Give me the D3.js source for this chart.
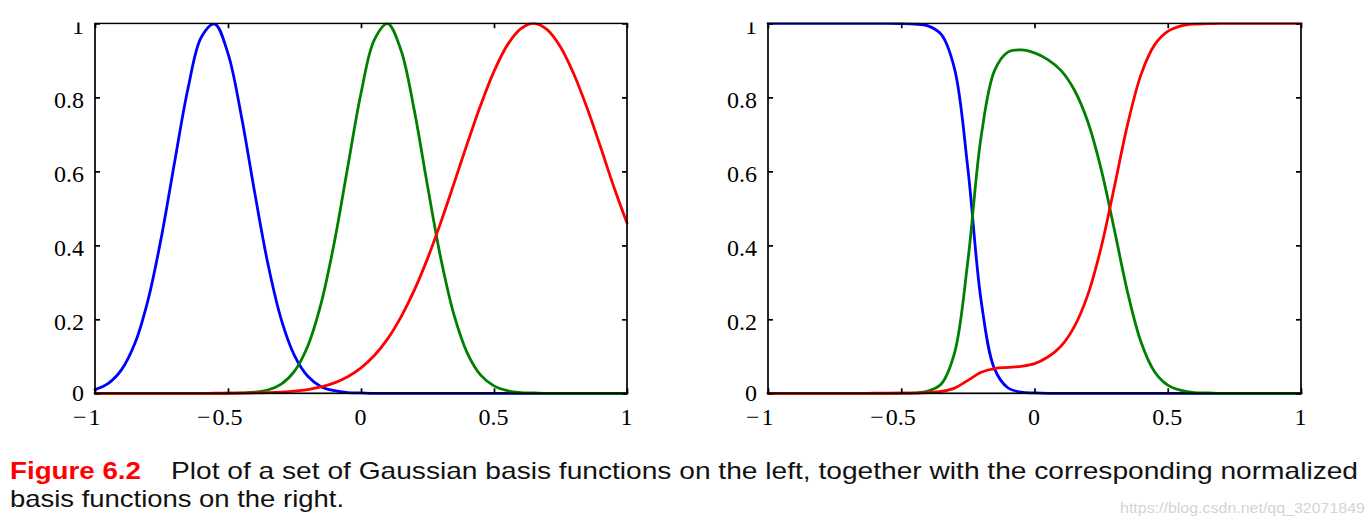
<!DOCTYPE html>
<html><head><meta charset="utf-8">
<script src="https://cdn.jsdelivr.net/npm/d3@7"></script>
<style>html,body{margin:0;padding:0;background:#fff;} svg{display:block;}</style>
</head><body><svg id="chart" width="1372" height="523"></svg>
<script>
// x sample positions shared by every series
const xs = [-1,-0.95,-0.9,-0.85,-0.8,-0.75,-0.7,-0.65,-0.6,-0.55,-0.5,-0.45,-0.4,-0.35,-0.3,-0.25,-0.2,-0.15,-0.1,-0.05,0,0.05,0.1,0.15,0.2,0.25,0.3,0.35,0.4,0.45,0.5,0.55,0.6,0.65,0.7,0.75,0.8,0.85,0.9,0.95,1];

// left panel: Gaussian basis functions
const leftBlue  = [0.010,0.027,0.064,0.135,0.254,0.424,0.628,0.825,0.963,0.998,0.918,0.750,0.544,0.350,0.200,0.102,0.046,0.018,0.007,0.002,0.001,0,0,0,0,0,0,0,0,0,0,0,0,0,0,0,0,0,0,0,0];
const leftGreen = [0,0,0,0,0,0,0,0,0,0,0.0002,0.001,0.003,0.009,0.025,0.060,0.128,0.243,0.409,0.611,0.811,0.955,0.999,0.928,0.766,0.561,0.365,0.211,0.108,0.049,0.020,0.007,0.002,0.001,0,0,0,0,0,0,0];
const leftRed   = [0,0,0,0,0,0,0,0,0,0.0001,0.0002,0.0005,0.0009,0.0017,0.0032,0.0058,0.0102,0.0172,0.0282,0.0447,0.0687,0.102,0.147,0.206,0.278,0.364,0.462,0.568,0.676,0.779,0.870,0.941,0.985,1.000,0.983,0.936,0.863,0.771,0.667,0.559,0.460];

// right panel: normalized basis functions
const rightBlue  = [1,1,1,1,1,1,1,1,1,1,0.9995,0.998,0.993,0.970,0.877,0.607,0.249,0.066,0.015,0.003,0.001,0,0,0,0,0,0,0,0,0,0,0,0,0,0,0,0,0,0,0,0];
const rightGreen = [0,0,0,0,0,0,0,0,0,0,0.0003,0.001,0.006,0.025,0.109,0.358,0.695,0.872,0.922,0.928,0.920,0.902,0.872,0.819,0.734,0.606,0.441,0.271,0.138,0.059,0.022,0.008,0.002,0.001,0,0,0,0,0,0,0];
const rightRed   = [0,0,0,0,0,0,0,0,0.0001,0.0001,0.0002,0.0006,0.0017,0.005,0.014,0.035,0.057,0.067,0.070,0.073,0.080,0.098,0.128,0.181,0.266,0.394,0.559,0.729,0.862,0.941,0.978,0.993,0.998,0.999,1,1,1,1,1,1,1];

const xTicks = [-1,-0.5,0,0.5,1];
const yTicks = [0,0.2,0.4,0.6,0.8,1];
const seriesColors = ["#0000ff","#008000","#ff0000"];

const captionLabel = "Figure 6.2";
const captionLine1 = "Plot of a set of Gaussian basis functions on the left, together with the corresponding normalized";
const captionLine2 = "basis functions on the right.";
const watermarkText = "https://blog.csdn.net/qq_32071849";

const svg = d3.select("#chart");
svg.append("rect").attr("width",1372).attr("height",523).attr("fill","#fff");
svg.append("defs").append("clipPath").attr("id","topclip")
  .append("rect").attr("x",0).attr("y",22.4).attr("width",1372).attr("height",520);

const plotTop = 23.3, plotBottom = 393.3;
const panels = [
  {x0:95,  x1:627,  series:[leftBlue,leftGreen,leftRed]},
  {x0:768, x1:1301, series:[rightBlue,rightGreen,rightRed]}
];
const serif = "'Liberation Serif','Times New Roman',serif";

panels.forEach(p => {
  const g = svg.append("g").attr("clip-path","url(#topclip)");
  const x = d3.scaleLinear().domain([-1,1]).range([p.x0,p.x1]);
  const y = d3.scaleLinear().domain([0,1]).range([plotBottom,plotTop]);

  const line = d3.line().x((d,i)=>x(xs[i])).y(d=>y(d)).curve(d3.curveCatmullRom.alpha(0.5));
  p.series.forEach((vals,k) => {
    g.append("path").datum(vals).attr("d",line)
      .attr("fill","none").attr("stroke",seriesColors[k])
      .attr("stroke-width",2.8).attr("stroke-linejoin","round").attr("stroke-linecap","round");
  });

  // axes
  const bottomAx = g.append("g").attr("transform",`translate(0,${plotBottom})`)
    .call(d3.axisBottom(x).tickValues(xTicks).tickSize(-5).tickSizeOuter(0).tickPadding(0)
      .tickFormat(d=>String(Math.abs(d))));
  const topAx = g.append("g").attr("transform",`translate(0,${plotTop})`)
    .call(d3.axisTop(x).tickValues(xTicks).tickSize(-5).tickSizeOuter(0).tickFormat(""));
  const leftAx = g.append("g").attr("transform",`translate(${p.x0},0)`)
    .call(d3.axisLeft(y).tickValues(yTicks).tickSize(-5).tickSizeOuter(0).tickPadding(11)
      .tickFormat(d=>String(d)));
  const rightAx = g.append("g").attr("transform",`translate(${p.x1},0)`)
    .call(d3.axisRight(y).tickValues(yTicks).tickSize(-5).tickSizeOuter(0).tickFormat(""));

  [bottomAx,topAx,leftAx,rightAx].forEach(a=>{
    a.select(".domain").remove();
    a.selectAll(".tick line").attr("stroke","#000").attr("stroke-width",1.7);
    a.selectAll("text").attr("fill","#000").attr("font-family",serif).attr("font-size",24);
  });
  leftAx.selectAll(".tick text").attr("dy",d => d === 0 ? "0.3em" : "0.42em");
  bottomAx.selectAll(".tick text").attr("dy",null).attr("y",31.5).attr("dx","-1");
  bottomAx.selectAll(".tick").each(function(d){
    if (d < 0) {
      const t = d3.select(this).select("text");
      const w = t.node().getComputedTextLength();
      d3.select(this).append("text").text("\u2212")
        .attr("x",-w/2-3).attr("y",31.5).attr("text-anchor","end")
        .attr("fill","#000").attr("font-family",serif).attr("font-size",24);
    }
  });

  g.append("rect").attr("x",p.x0).attr("y",plotTop).attr("width",p.x1-p.x0).attr("height",plotBottom-plotTop)
    .attr("fill","none").attr("stroke","#000").attr("stroke-width",1.7);
});

const sans = "'Liberation Sans',Arial,Helvetica,sans-serif";
svg.append("text").attr("x",10).attr("y",479).text(captionLabel)
  .attr("font-family",sans).attr("font-weight","bold").attr("font-size",24).attr("fill","#ff0000")
  .attr("textLength",131).attr("lengthAdjust","spacingAndGlyphs");
svg.append("text").attr("x",171).attr("y",479).text(captionLine1)
  .attr("font-family",sans).attr("font-size",24).attr("fill","#111")
  .attr("textLength",1187).attr("lengthAdjust","spacingAndGlyphs");
svg.append("text").attr("x",10).attr("y",507).text(captionLine2)
  .attr("font-family",sans).attr("font-size",24).attr("fill","#111")
  .attr("textLength",334).attr("lengthAdjust","spacingAndGlyphs");
svg.append("text").attr("x",1120).attr("y",513).text(watermarkText)
  .attr("font-family",sans).attr("font-size",14).attr("fill","#d4d4d4")
  .attr("textLength",245).attr("lengthAdjust","spacingAndGlyphs");
</script></body></html>
